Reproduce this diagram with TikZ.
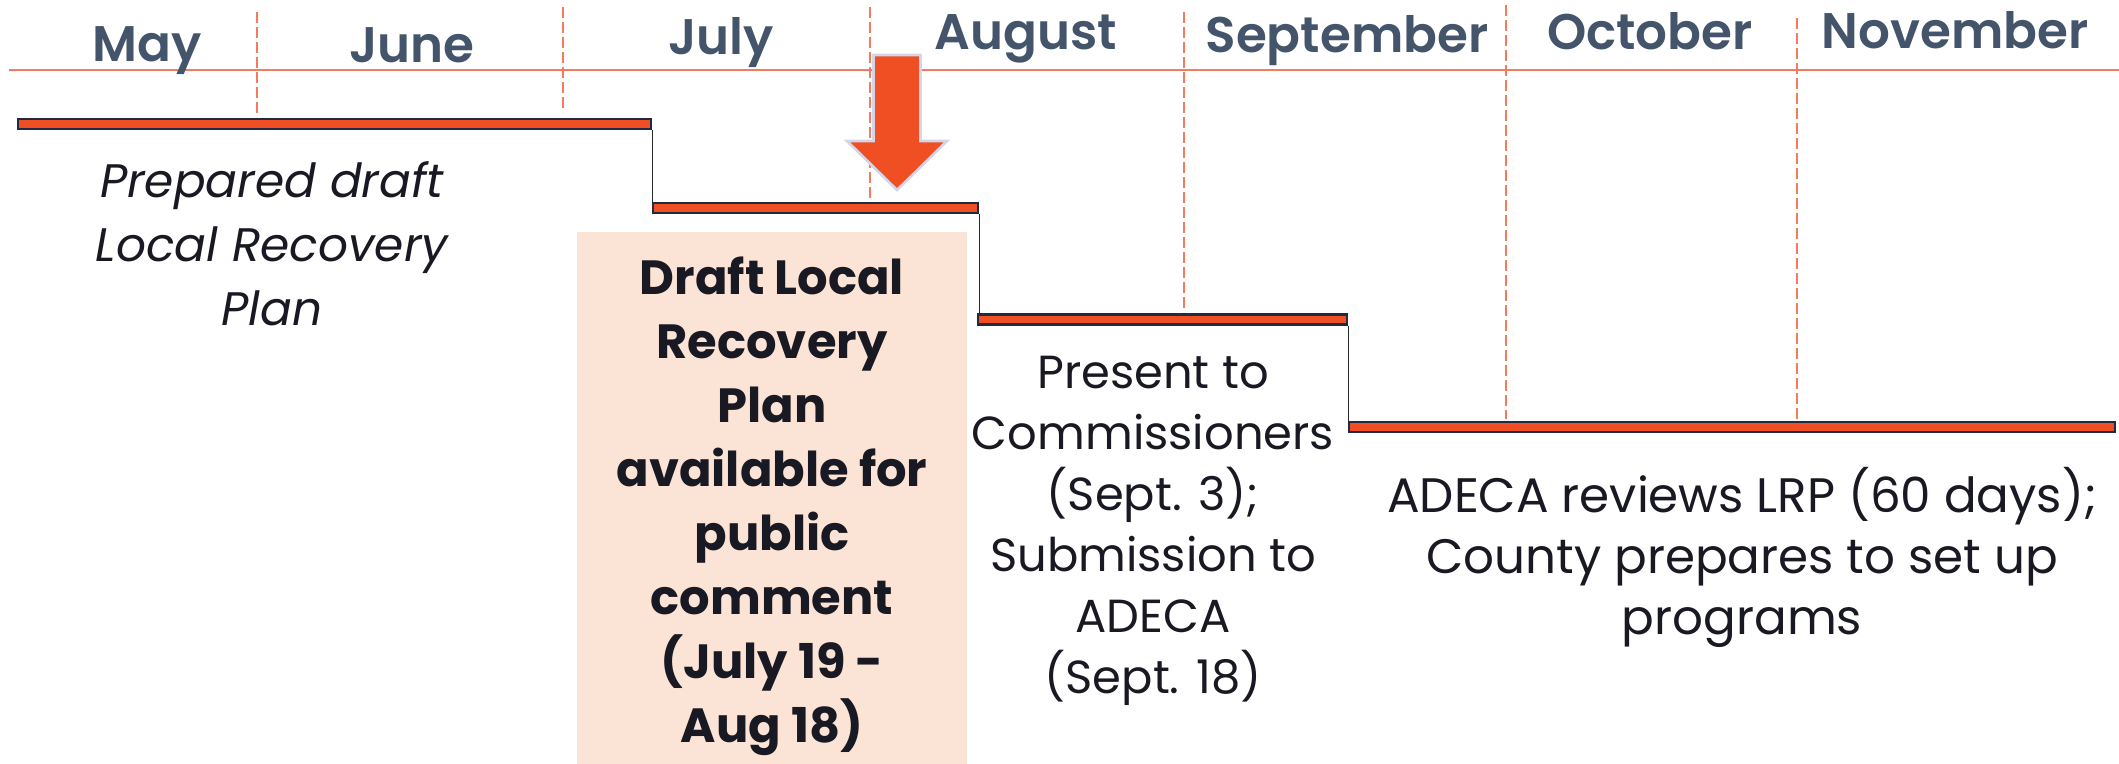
\documentclass[tikz,border=0pt]{standalone}
\usepackage{fontspec}
\setmainfont{Poppins}
\newfontfamily\monthfont{Poppins SemiBold}
\definecolor{monthc}{HTML}{44546A}
\definecolor{divc}{HTML}{F47B5E}
\definecolor{barfill}{HTML}{F04E23}
\definecolor{barline}{HTML}{1F2A44}
\definecolor{connc}{HTML}{2A2A2A}
\definecolor{arrowline}{HTML}{D3D6E8}
\definecolor{boxc}{HTML}{FBE4D6}
\definecolor{txt}{HTML}{191923}
\begin{document}
\begin{tikzpicture}[x=0.5pt,y=-0.5pt,
  month/.style={font=\fontsize{25}{30}\selectfont\monthfont, text=monthc, anchor=base, inner sep=0},
  divider/.style={draw=divc, line width=1pt, dash pattern=on 5.5pt off 2pt},
  hline/.style={draw=divc, line width=1pt},
  barbox/.style={draw=barline, fill=barfill, line width=1.1pt, minimum height=5pt, inner sep=0, anchor=north west},
  conn/.style={draw=connc, line width=0.7pt},
  bodytxt/.style={text=txt, align=center, inner sep=0, anchor=north}]
\useasboundingbox (0,0) rectangle (2119,764);
% header
\draw[hline] (9,70) -- (2119,70);
% bars
\node[barbox, minimum width=316.5pt] (b1) at (17,118) {};
\node[barbox, minimum width=162.5pt] (b2) at (652,202) {};
\node[barbox, minimum width=184.5pt] (b3) at (977,313.5) {};
\node[barbox, minimum width=383pt] (b4) at (1348,421) {};
% dividers
\draw[divider] (257,12) -- (257,117);
\draw[divider] (563,7) -- (563,112);
\draw[divider] (870,7) -- (870,199);
\draw[divider] (1184,12) -- (1184,312);
\draw[divider] (1506,5) -- (1506,419);
\draw[divider] (1797,18) -- (1797,419);
% connectors
\draw[conn] (b1.south east) -- (b1.south east |- b2.north);
\draw[conn] (b2.south east) -- (b2.south east |- b3.north);
\draw[conn] (b3.south east) -- (b3.south east |- b4.north);
% months
\node[month] (m5) at (147,62) {May};
\node[month] (m6) at (412,63) {June};
\node[month] (m7) at (721,55) {July};
\node[month] (m8) at (1026,50) {August};
\node[month] (m9) at (1347,53) {September};
\node[month] (m10) at (1650,50) {October};
\node[month] (m11) at (1955,49) {November};
% arrow
\draw[fill=barfill, draw=arrowline, line width=1.3pt, line join=miter]
  (873.5,55) -- (920.5,55) -- (920.5,141) -- (947,141) -- (897,190) -- (847,141) -- (873.5,141) -- cycle;
% box
\fill[boxc] (577,232) rectangle (967,764);
\node[bodytxt, font=\fontsize{24}{32}\selectfont\bfseries] (boxt) at (772,256)
  {Draft Local\\Recovery\\Plan\\available for\\public\\comment\\(July 19 -\\Aug 18)};
% texts
\node[bodytxt, font=\fontsize{23.5}{32}\selectfont\itshape] (prep) at (272,161)
  {Prepared draft\\Local Recovery\\Plan};
\node[bodytxt, font=\fontsize{23.2}{30.5}\selectfont] (pres) at (1153,356)
  {Present to\\Commissioners\\(Sept. 3);\\Submission to\\ADECA\\(Sept. 18)};
\node[bodytxt, font=\fontsize{24.2}{30.5}\selectfont] (adeca) at (1742,467)
  {ADECA reviews LRP (60 days);\\County prepares to set up\\programs};
\end{tikzpicture}
\end{document}
